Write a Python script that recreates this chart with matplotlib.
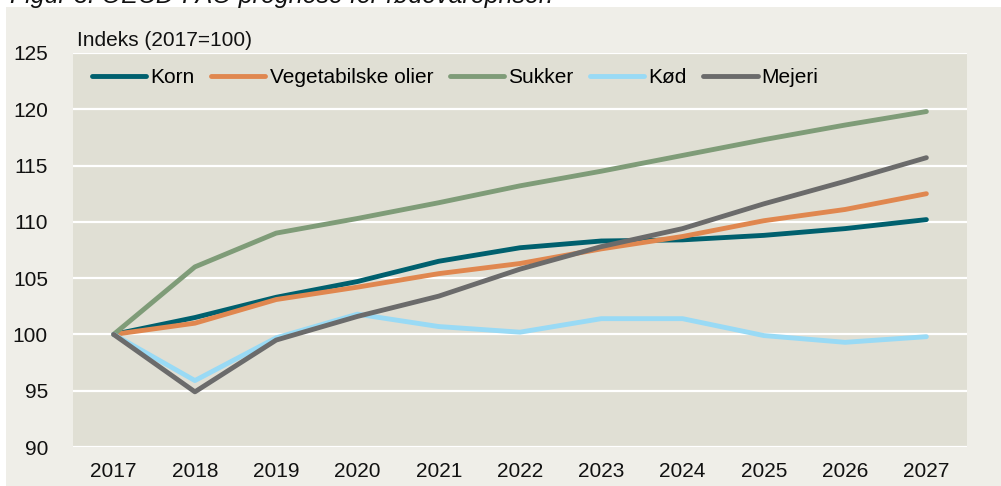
import numpy as np
import matplotlib
matplotlib.use("Agg")
import matplotlib.pyplot as plt
from matplotlib.patches import Rectangle

plt.rcParams['font.family'] = ['Liberation Sans', 'DejaVu Sans']

# data (index, 2017 = 100)
years = [2017, 2018, 2019, 2020, 2021, 2022, 2023, 2024, 2025, 2026, 2027]
korn = [100, 101.5, 103.3, 104.7, 106.5, 107.7, 108.3, 108.4, 108.8, 109.4, 110.2]
olier = [100, 101.0, 103.1, 104.2, 105.4, 106.3, 107.6, 108.7, 110.1, 111.1, 112.5]
sukker = [100, 106.0, 109.0, 110.3, 111.7, 113.2, 114.5, 115.9, 117.3, 118.6, 119.8]
koed = [100, 95.9, 99.7, 101.8, 100.7, 100.2, 101.4, 101.4, 99.9, 99.3, 99.8]
mejeri = [100, 94.9, 99.5, 101.6, 103.4, 105.8, 107.8, 109.4, 111.6, 113.6, 115.7]

series = [
    ("Korn", korn, "#00606e"),
    ("Vegetabilske olier", olier, "#e0874f"),
    ("Sukker", sukker, "#7f9c78"),
    ("Kød", koed, "#99daf5"),
    ("Mejeri", mejeri, "#6b6b6b"),
]

W, H = 1001, 486
fig = plt.figure(figsize=(W / 100, H / 100), dpi=100)
fig.patch.set_facecolor("white")
# light panel behind the chart
fig.patches.append(Rectangle((6 / W, 0), 1, 1 - 7 / H, transform=fig.transFigure,
                             facecolor="#efeee8", edgecolor="none", zorder=-1))

ax = fig.add_axes([73 / W, 1 - 447 / H, (967 - 73) / W, (447 - 53) / H])
ax.set_facecolor("#e0dfd4")

for name, vals, col in series:
    ax.plot(years, vals, color=col, lw=3.5, label=name, solid_capstyle="round",
            solid_joinstyle="round")

ax.set_xlim(2016.5, 2027.5)
ax.set_ylim(90, 125)
ax.set_xticks(years)
ax.set_yticks(np.arange(90, 126, 5))
ax.grid(axis="y", color="white", lw=1.6)
ax.set_axisbelow(True)
for s in ax.spines.values():
    s.set_visible(False)
ax.tick_params(length=0, labelsize=15, colors="#111111")
ax.tick_params(axis="y", pad=18)
ax.tick_params(axis="x", pad=11)

ax.legend(loc="center left", bbox_to_anchor=(19 / 894, 1 - 24.7 / 394), ncol=5,
          frameon=False, fontsize=15, handlelength=2.6, handletextpad=0.2,
          columnspacing=0.8, borderpad=0, borderaxespad=0)

fig.text(77 / W, 1 - 40 / H, "Indeks (2017=100)", fontsize=15, va="center",
         ha="left", color="#111111")
# title is cropped at the top edge in the original as well
fig.text(10 / W, 1 - 3.5 / H, "Figur 3. OECD-FAO prognose for fødevarepriser.",
         fontsize=18, style="italic", va="baseline", ha="left", color="#111111")

fig.savefig("out.png", dpi=100)
